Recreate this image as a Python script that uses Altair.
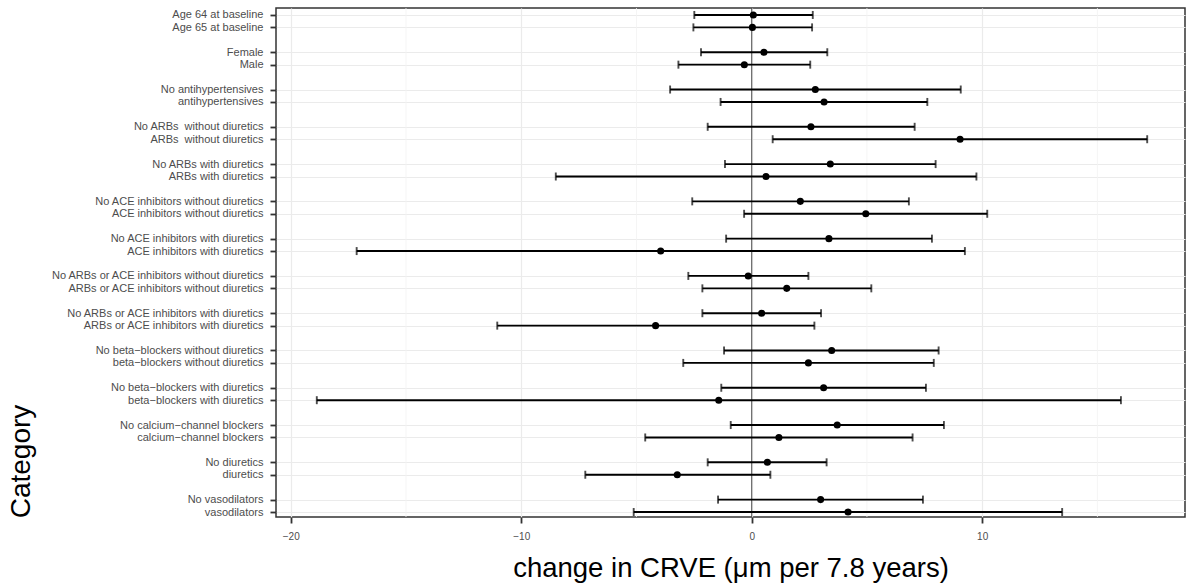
import altair as alt
import pandas as pd

categories = [
    "Age 64 at baseline", "Age 65 at baseline",
    "Female", "Male",
    "No antihypertensives", "antihypertensives",
    "No ARBs\u00a0 without diuretics", "ARBs\u00a0 without diuretics",
    "No ARBs with diuretics", "ARBs with diuretics",
    "No ACE inhibitors without diuretics", "ACE inhibitors without diuretics",
    "No ACE inhibitors with diuretics", "ACE inhibitors with diuretics",
    "No ARBs or ACE inhibitors without diuretics", "ARBs or ACE inhibitors without diuretics",
    "No ARBs or ACE inhibitors with diuretics", "ARBs or ACE inhibitors with diuretics",
    "No beta\u2212blockers without diuretics", "beta\u2212blockers without diuretics",
    "No beta\u2212blockers with diuretics", "beta\u2212blockers with diuretics",
    "No calcium\u2212channel blockers", "calcium\u2212channel blockers",
    "No diuretics", "diuretics",
    "No vasodilators", "vasodilators",
]
estimate = [0.07, 0.03, 0.53, -0.32, 2.76, 3.14, 2.57, 9.04, 3.41, 0.62,
            2.11, 4.95, 3.35, -3.95, -0.15, 1.52, 0.43, -4.17, 3.47, 2.46,
            3.12, -1.43, 3.71, 1.18, 0.68, -3.23, 2.99, 4.18]
lower = [-2.49, -2.53, -2.20, -3.18, -3.54, -1.35, -1.91, 0.91, -1.16, -8.50,
         -2.58, -0.33, -1.11, -17.14, -2.75, -2.14, -2.14, -11.04, -1.20, -2.97,
         -1.32, -18.87, -0.91, -4.62, -1.91, -7.22, -1.46, -5.12]
upper = [2.65, 2.62, 3.28, 2.54, 9.07, 7.62, 7.07, 17.16, 7.98, 9.75,
         6.82, 10.22, 7.82, 9.25, 2.46, 5.19, 3.01, 2.72, 8.11, 7.90,
         7.56, 16.02, 8.34, 6.98, 3.25, 0.81, 7.43, 13.47]
x_ticks = [-20, -10, 0, 10]
minor_breaks = [-15, -5, 5, 15]

rows = []
for k, cat in enumerate(categories):
    rows.append(dict(category=cat, pos=(k // 2) * 3 + (k % 2),
                     est=estimate[k], lo=lower[k], hi=upper[k]))
df = pd.DataFrame(rows)

n_slots = int(df["pos"].max()) + 1
slot_labels = [""] * n_slots
for p, c in zip(df["pos"], df["category"]):
    slot_labels[int(p)] = c
label_expr = "[" + ",".join("'" + s + "'" for s in slot_labels) + "][datum.value]"

x_scale = alt.Scale(domain=[-20.64, 18.80], nice=False, zero=False)
y_scale = alt.Scale(domain=[-0.56, 40.4], reverse=True, nice=False, zero=False)

x_axis = alt.Axis(
    values=x_ticks, title="change in CRVE (\u03bcm per 7.8 years)",
    grid=True, gridColor="#EBEBEB", gridWidth=1.2, domain=False,
    tickColor="#333333", tickSize=6, tickWidth=1.8,
    labelFontSize=10, labelColor="#4D4D4D", labelPadding=8, labelFont="Liberation Sans",
    labelOverlap=False,
    titleFontSize=27.5, titleFontWeight="normal", titleColor="black", titleFont="Liberation Sans",
    titleBaseline="alphabetic", titleY=59,
)
y_axis = alt.Axis(
    values=[int(v) for v in df["pos"]], labelExpr=label_expr, title="Category",
    grid=True, gridColor="#EBEBEB", gridWidth=1.2, domain=False,
    tickColor="#333333", tickSize=6, tickWidth=1.8,
    labelFontSize=11, labelColor="#4D4D4D", labelPadding=7, labelFont="Liberation Sans",
    labelOverlap=False, labelLimit=400, labelFlush=False,
    titleFontSize=28, titleFontWeight="normal", titleColor="black", titleFont="Liberation Sans",
    titleX=-241, titleY=453,
)

X = lambda f: alt.X(f, scale=x_scale, axis=x_axis)
Y = lambda f: alt.Y(f, scale=y_scale, axis=y_axis)

base = alt.Chart(df)

minor = base.mark_rule(color="#F2F2F2", strokeWidth=0.8).encode(
    x=X("m:Q"), y=alt.value(0), y2=alt.value(509)
).transform_filter("datum.pos == 0").transform_calculate(
    m=str(minor_breaks)
).transform_flatten(["m"])

zero_line = base.mark_rule(color="#4D4D4D", strokeWidth=1).encode(
    x=X("z:Q"), y=alt.value(0), y2=alt.value(509)
).transform_filter("datum.pos == 0").transform_calculate(z="0")

bars = base.mark_rule(color="black", strokeWidth=1.9).encode(
    x=X("lo:Q"), x2="hi:Q", y=Y("pos:Q"))
cap_lo = base.mark_tick(color="black", orient="vertical", size=8, thickness=1.9).encode(
    x=X("lo:Q"), y=Y("pos:Q"))
cap_hi = base.mark_tick(color="black", orient="vertical", size=8, thickness=1.9).encode(
    x=X("hi:Q"), y=Y("pos:Q"))
points = base.mark_circle(color="black", size=50, opacity=1).encode(
    x=X("est:Q"), y=Y("pos:Q"))

chart = alt.layer(minor, zero_line, bars, cap_lo, cap_hi, points).properties(
    width=909, height=509,
    background="white",
    autosize=alt.AutoSizeParams(type="none"),
    padding={"left": 276, "top": 8, "right": 4, "bottom": 70},
).configure_view(stroke="#333333", strokeWidth=1.5).configure_axis(labelOverlap=False)

chart.save("out.html", embed_options={"renderer": "svg", "actions": False})
